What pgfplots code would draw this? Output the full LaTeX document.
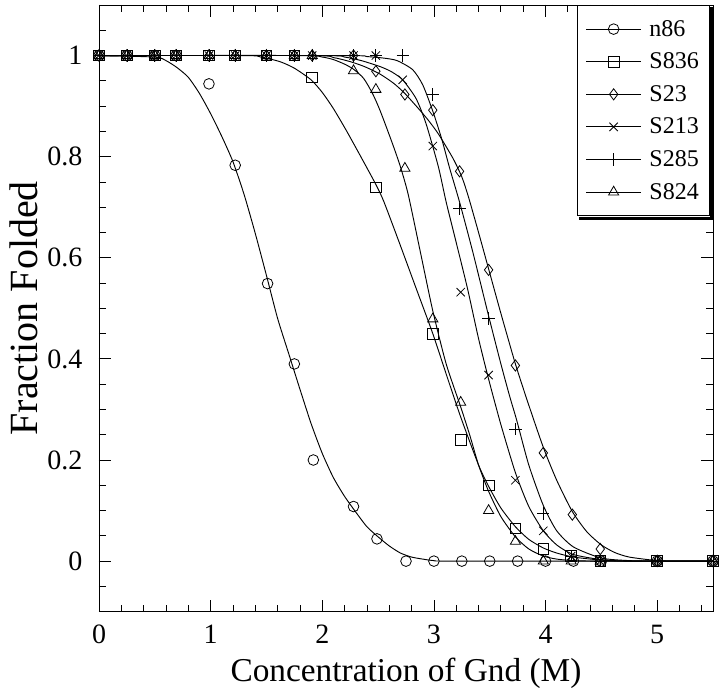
\documentclass[border=0pt]{standalone}
\usepackage{fontspec}
\setmainfont{Liberation Serif}
\usepackage{pgfplots}
\pgfplotsset{compat=1.18}

\begin{document}
\begin{tikzpicture}
\begin{axis}[
    scale only axis,
    width=460.5pt, height=455pt,
    xmin=0, xmax=5.5, ymin=-0.1, ymax=1.1,
    xtick={0,1,2,3,4,5},
    minor xtick={0,0.2,...,5.41},
    ytick={0,0.2,0.4,0.6,0.8,1},
    minor ytick={-0.1,-0.05,...,1.11},
    tick pos=both, tick align=inside,
    major tick length=9pt, minor tick length=5pt,
    axis line style={line width=0.7pt},
    every tick/.style={black, line width=0.6pt},
    /pgf/number format/assume math mode=true,
    tick label style={font=\fontsize{21}{21}\selectfont},
    yticklabel style={xshift=-9pt},
    xticklabel style={yshift=-6.5pt},
    xlabel style={font=\fontsize{25}{25}\selectfont, yshift=-4pt},
    ylabel style={font=\fontsize{30}{30}\selectfont},
    xlabel={Concentration of Gnd (M)},
    ylabel={Fraction Folded},
    legend style={name=leg, at={(rel axis cs:0.995,1)}, anchor=north east,
        draw=black, line width=0.7pt, fill=white,
        font=\fontsize{18}{18}\selectfont,
        row sep=7pt, inner xsep=6pt, inner ysep=9pt},
    legend cell align=left,
    legend image code/.code={\draw[mark repeat=2,mark phase=2,#1,line width=0.6pt]
        plot coordinates {(0pt,0pt) (20.5pt,0pt) (41pt,0pt)};
        \path (45pt,0pt);},
    every axis plot/.append style={black, line width=0.7pt},
    mark options={line width=0.6pt, solid},
]
% legend entries
\addlegendimage{mark=o, mark size=4pt}\addlegendentry{n86}
\addlegendimage{mark=square, mark size=4pt}\addlegendentry{S836}
\addlegendimage{mark=diamond, mark size=4.2pt}\addlegendentry{S23}
\addlegendimage{mark=x, mark size=4.4pt}\addlegendentry{S213}
\addlegendimage{mark=+, mark size=4.6pt}\addlegendentry{S285}
\addlegendimage{mark=triangle, mark size=4.4pt}\addlegendentry{S824}

% fitted curves
\addplot[smooth, tension=0.4, forget plot] coordinates {
(0,1) (0.5,0.997) (0.6,0.99) (0.7,0.976) (0.8,0.957) (0.9,0.925) (1.0,0.885)
(1.1,0.84) (1.2,0.79) (1.3,0.725) (1.4,0.648) (1.5,0.565) (1.6,0.48) (1.7,0.41)
(1.8,0.34) (1.9,0.272) (2.0,0.213) (2.1,0.165) (2.2,0.128) (2.3,0.097) (2.4,0.068)
(2.5,0.048) (2.6,0.03) (2.7,0.016) (2.8,0.008) (2.9,0.004) (3.0,0.001) (3.2,0) (5.5,0)};
\addplot[smooth, tension=0.4, forget plot] coordinates {
(0,1) (1.3,1.0) (1.45,0.997) (1.62,0.988) (1.75,0.975) (1.9,0.952) (2.0,0.927)
(2.1,0.895) (2.22,0.85) (2.37,0.79) (2.48,0.745) (2.55,0.712) (2.69,0.63)
(2.84,0.54) (2.99,0.45) (3.11,0.37) (3.24,0.285) (3.4,0.19) (3.49,0.148)
(3.6,0.105) (3.73,0.068) (3.85,0.043) (3.98,0.026) (4.1,0.016) (4.25,0.008)
(4.5,0.002) (4.75,0) (5.5,0)};
\addplot[smooth, tension=0.4, forget plot] coordinates {
(0,1) (1.9,1.0) (2.1,0.996) (2.25,0.988) (2.38,0.978) (2.52,0.963) (2.64,0.945)
(2.74,0.925) (2.87,0.893) (2.95,0.872) (3.04,0.845) (3.17,0.797) (3.25,0.76)
(3.31,0.72) (3.4,0.65) (3.49,0.578) (3.6,0.49) (3.73,0.39) (3.84,0.315)
(3.98,0.225) (4.1,0.16) (4.24,0.098) (4.37,0.058) (4.5,0.032) (4.62,0.017)
(4.75,0.008) (5.0,0.001) (5.2,0) (5.5,0)};
\addplot[smooth, tension=0.4, forget plot] coordinates {
(0,1) (2.0,1.0) (2.2,0.997) (2.35,0.99) (2.52,0.978) (2.62,0.968) (2.72,0.952)
(2.84,0.915) (2.93,0.865) (3.04,0.78) (3.11,0.71) (3.2,0.63) (3.3,0.54)
(3.4,0.44) (3.49,0.36) (3.6,0.27) (3.73,0.175) (3.85,0.108) (3.98,0.06)
(4.1,0.032) (4.25,0.013) (4.5,0.003) (4.75,0) (5.5,0)};
\addplot[smooth, tension=0.4, forget plot] coordinates {
(0,1) (2.2,1.0) (2.4,0.998) (2.55,0.995) (2.67,0.99) (2.81,0.972) (2.9,0.942)
(2.99,0.89) (3.07,0.835) (3.14,0.778) (3.23,0.71) (3.35,0.61) (3.49,0.485)
(3.6,0.39) (3.68,0.325) (3.74,0.28) (3.85,0.19) (3.98,0.11) (4.1,0.06)
(4.25,0.028) (4.5,0.006) (4.75,0.001) (5.0,0) (5.5,0)};
\addplot[smooth, tension=0.4, forget plot] coordinates {
(0,1) (1.8,1.0) (2.0,0.997) (2.1,0.992) (2.2,0.983) (2.28,0.973) (2.37,0.955)
(2.45,0.925) (2.52,0.89) (2.63,0.825) (2.7,0.78) (2.77,0.725) (2.88,0.61)
(2.99,0.495) (3.11,0.39) (3.24,0.305) (3.32,0.25) (3.4,0.19) (3.49,0.138)
(3.6,0.088) (3.73,0.048) (3.85,0.024) (3.98,0.01) (4.1,0.004) (4.25,0.001)
(4.5,0) (5.5,0)};

% measured points
\addplot[only marks, mark=o, mark size=4pt, forget plot] coordinates {
(0,1) (0.25,1) (0.5,1) (0.69,1) (0.985,0.944) (1.22,0.783) (1.51,0.549)
(1.75,0.39) (1.92,0.2) (2.28,0.108) (2.49,0.044) (2.75,0) (3.0,0) (3.25,0)
(3.5,0) (3.75,0) (4.0,0) (4.25,0) (4.5,0) (5.0,0) (5.5,0)};
\addplot[only marks, mark=square, mark size=4pt, forget plot] coordinates {
(0,1) (0.25,1) (0.5,1) (0.69,1) (0.985,1) (1.22,1) (1.5,1) (1.75,1)
(1.91,0.957) (2.48,0.739) (2.99,0.449) (3.24,0.24) (3.49,0.15) (3.73,0.065)
(3.98,0.024) (4.23,0.01) (4.49,0) (5.0,0) (5.5,0)};
\addplot[only marks, mark=diamond, mark size=4.2pt, forget plot] coordinates {
(0,1) (0.25,1) (0.5,1) (0.69,1) (0.985,1) (1.22,1) (1.5,1) (1.75,1) (1.91,1)
(2.28,1) (2.48,0.969) (2.74,0.923) (2.99,0.892) (3.23,0.771) (3.49,0.576)
(3.73,0.387) (3.98,0.214) (4.24,0.092) (4.49,0.024) (5.0,0) (5.5,0)};
\addplot[only marks, mark=x, mark size=4.4pt, forget plot] coordinates {
(0,1) (0.25,1) (0.5,1) (0.69,1) (0.985,1) (1.22,1) (1.5,1) (1.75,1) (1.91,1)
(2.28,1) (2.48,1) (2.72,0.952) (2.99,0.821) (3.24,0.532) (3.49,0.368)
(3.73,0.16) (3.98,0.06) (4.23,0.01) (4.49,0) (5.0,0) (5.5,0)};
\addplot[only marks, mark=+, mark size=4.6pt, forget plot] coordinates {
(0,1) (0.25,1) (0.5,1) (0.69,1) (0.985,1) (1.22,1) (1.5,1) (1.75,1) (1.91,1)
(2.28,1) (2.48,1) (2.72,1) (2.99,0.923) (3.23,0.697) (3.49,0.48) (3.73,0.261)
(3.98,0.094) (4.23,0.01) (4.49,0) (5.0,0) (5.5,0)};
\addplot[only marks, mark=triangle, mark size=4.4pt, forget plot] coordinates {
(0,1) (0.25,1) (0.5,1) (0.69,1) (0.985,1) (1.22,1) (1.5,1) (1.75,1) (1.91,1)
(2.28,0.97) (2.48,0.933) (2.74,0.777) (2.99,0.479) (3.24,0.314) (3.49,0.1)
(3.73,0.039) (3.98,0) (4.23,0) (4.49,0) (5.0,0) (5.5,0)};

\coordinate (bl) at (rel axis cs:0,0);
\coordinate (tr) at (rel axis cs:1,1);
\end{axis}
% heavy shadow edge of the legend box
\draw[line width=2.4pt, line cap=rect]
  ([xshift=1.55pt,yshift=-2.6pt]leg.north east) -- ([xshift=1.55pt,yshift=-1.55pt]leg.south east)
  -- ([xshift=2.6pt,yshift=-1.55pt]leg.south west);
\pgfresetboundingbox
\path[use as bounding box] ([xshift=-74.25pt,yshift=-61.5pt]bl) rectangle ([xshift=5.25pt,yshift=3.75pt]tr);
\end{tikzpicture}
\end{document}
